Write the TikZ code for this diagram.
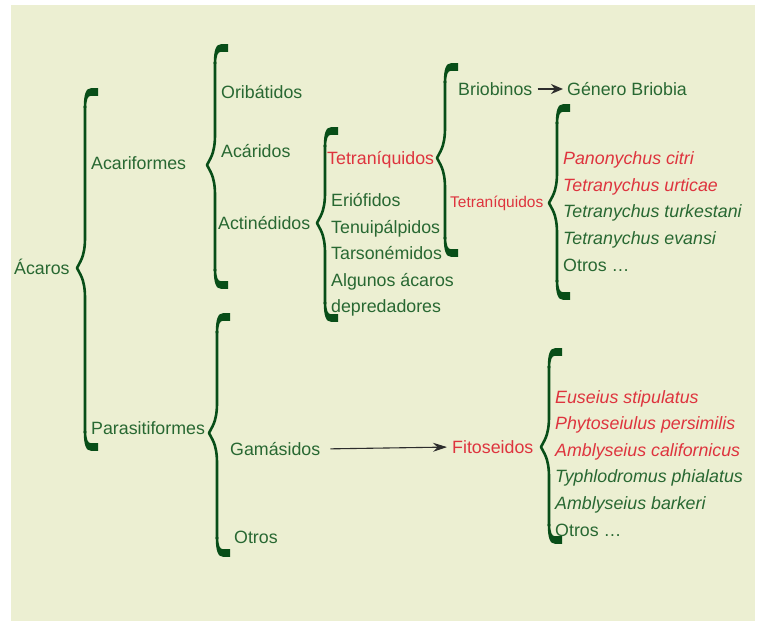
\documentclass[tikz,border=0pt]{standalone}
\usepackage{fontspec}
\setmainfont{Liberation Sans}
\usetikzlibrary{arrows.meta}
\definecolor{bgc}{RGB}{236,239,210}
\definecolor{txtc}{RGB}{40,104,50}
\definecolor{brc}{RGB}{8,78,24}
\definecolor{redc}{RGB}{222,52,62}
\definecolor{arrc}{RGB}{45,45,45}
\tikzset{
  lbl/.style={anchor=west,inner sep=0pt,text height=12.8pt,text depth=0pt,font=\fontsize{17.8}{20}\selectfont,text=txtc},
  redlbl/.style={lbl,text=redc},
  smallred/.style={lbl,text=redc,font=\fontsize{15.5}{18}\selectfont,text height=11.2pt},
  itg/.style={lbl,font=\fontsize{17.8}{20}\selectfont\itshape},
  itr/.style={itg,text=redc},
  bracel/.style={draw=brc,line width=2.6pt,line join=round},
  conn/.style={draw=arrc,-{Stealth[length=14pt,width=9pt]}}
}
\newcommand\MyBrace[4]{%
  \draw[bracel] ({#1},{#2+14})
    -- ({#1},{#4-30}) .. controls ({#1},{#4-10}) and ({#1-6},{#4-5}) .. ({#1-8},#4)
    .. controls ({#1-6},{#4+5}) and ({#1},{#4+10}) .. ({#1},{#4+30})
    -- ({#1},{#3-14});
  \fill[brc] ({#1-1.3},{#2+16}) .. controls ({#1-1.3},{#2+2}) and ({#1+1},{#2-3.8}) .. ({#1+6},{#2-3.8})
    -- ({#1+13},{#2-3.8}) -- ({#1+13},{#2+3.8}) -- ({#1+6},{#2+3.8})
    .. controls ({#1+2.5},{#2+3.8}) and ({#1+1.3},{#2+8}) .. ({#1+1.3},{#2+16}) -- cycle;
  \fill[brc] ({#1-1.3},{#3-16}) .. controls ({#1-1.3},{#3-2}) and ({#1+1},{#3+3.8}) .. ({#1+6},{#3+3.8})
    -- ({#1+13},{#3+3.8}) -- ({#1+13},{#3-3.8}) -- ({#1+6},{#3-3.8})
    .. controls ({#1+2.5},{#3-3.8}) and ({#1+1.3},{#3-8}) .. ({#1+1.3},{#3-16}) -- cycle;
}
\begin{document}
\begin{tikzpicture}[x=1pt,y=-1pt]
\useasboundingbox (0,0) rectangle (761,623);
\fill[bgc] (11,5) rectangle (755,621);
% braces
\MyBrace{85}{92}{447}{268}
\MyBrace{215}{48}{285}{165}
\MyBrace{325}{131}{318}{223}
\MyBrace{445}{67}{253}{158}
\MyBrace{557}{108}{296}{203}
\MyBrace{217}{317}{553}{433}
\MyBrace{549}{352}{540}{447}
% labels
\node[lbl] (acaros) at (14,268) {Ácaros};
\node[lbl] (acari) at (91,163) {Acariformes};
\node[lbl] (para) at (91,428) {Parasitiformes};
\node[lbl] (orib) at (221,92) {Oribátidos};
\node[lbl] (acar) at (221,151) {Acáridos};
\node[lbl] (actin) at (218,223) {Actinédidos};
\node[redlbl] (tetra1) at (327,158) {Tetraníquidos};
\node[lbl] (erio) at (331,200) {Eriófidos};
\node[lbl] (tenui) at (331,227) {Tenuipálpidos};
\node[lbl] (tarso) at (331,253) {Tarsonémidos};
\node[lbl] (algun) at (331,280) {Algunos ácaros};
\node[lbl] (depre) at (331,306) {depredadores};
\node[lbl] (brio) at (458,89) {Briobinos};
\node[lbl] (gen) at (567,89) {Género Briobia};
\node[smallred] (tetra2) at (450,202) {Tetraníquidos};
\node[itr] (pano) at (563,158) {Panonychus citri};
\node[itr] (urti) at (563,185) {Tetranychus urticae};
\node[itg] (turk) at (563,211) {Tetranychus turkestani};
\node[itg] (evan) at (563,238) {Tetranychus evansi};
\node[lbl] (otros1) at (563,265) {Otros …};
\node[lbl] (gama) at (230,449) {Gamásidos};
\node[lbl] (otros2) at (234,537) {Otros};
\node[redlbl] (fito) at (452,447) {Fitoseidos};
\node[itr] (euse) at (555,397) {Euseius stipulatus};
\node[itr] (phyt) at (555,423) {Phytoseiulus persimilis};
\node[itr] (ambc) at (555,450) {Amblyseius californicus};
\node[itg] (typh) at (555,476) {Typhlodromus phialatus};
\node[itg] (ambb) at (555,503) {Amblyseius barkeri};
\node[lbl] (otros3) at (555,530) {Otros …};
% connectors
\draw[conn,line width=1.8pt,-{Stealth[length=12pt,width=10pt]},shorten <=5pt,shorten >=4pt] (brio.east) -- (gen.west);
\draw[conn,line width=1.1pt,shorten <=10pt,shorten >=5pt] (gama.east) -- (fito.west);
\end{tikzpicture}
\end{document}
